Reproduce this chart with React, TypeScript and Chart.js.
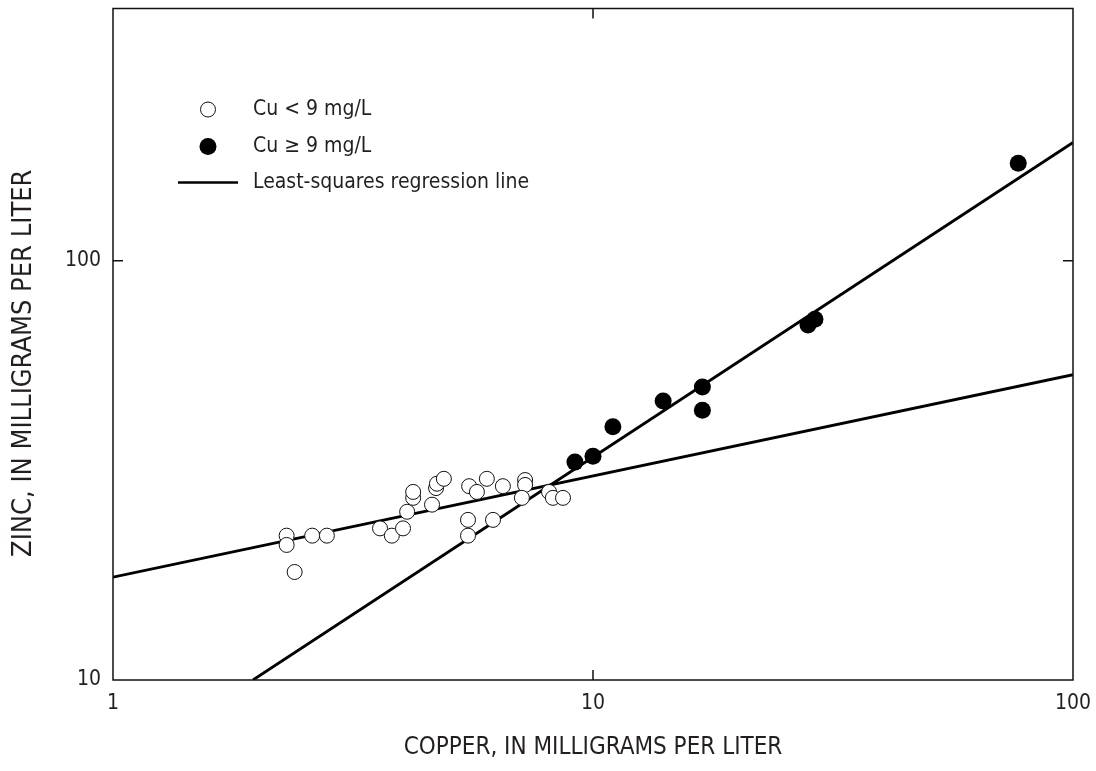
import { useEffect, useRef } from "react";
import { Chart, registerables } from "chart.js";

Chart.register(...registerables);

// Samples with copper below 9 mg/L (open circles)
const CU_LOW_X = [2.3, 2.3, 2.39, 2.6, 2.79, 3.6, 3.81, 4.02, 4.1, 4.22, 4.22, 4.62, 4.71, 4.73, 4.89, 5.52, 5.73, 6.01, 6.49, 5.49, 5.49, 6.19, 7.22, 7.22, 7.11, 8.1, 8.25, 8.66];
const ZN_LOW_Y = [22.1, 21.0, 18.1, 22.1, 22.1, 23.0, 22.1, 23.0, 25.2, 27.2, 28.1, 26.2, 28.7, 29.4, 30.2, 29.0, 28.1, 30.2, 29.0, 24.1, 22.1, 24.1, 30.0, 29.2, 27.2, 28.1, 27.2, 27.2];

// Samples with copper at or above 9 mg/L (filled circles)
const CU_HIGH_X = [9.17, 10.0, 11.0, 14.0, 16.9, 16.9, 28.05, 29.0, 76.9];
const ZN_HIGH_Y = [33.1, 34.2, 40.2, 46.3, 50.0, 44.0, 70.3, 72.6, 171];

// Least-squares regression lines, given by their end points
const FIT_SHALLOW_X = [1, 100];
const FIT_SHALLOW_Y = [17.6, 53.5];
const FIT_STEEP_X = [1.957, 100];
const FIT_STEEP_Y = [10, 191.6];

// Axes
const X_TICKS = [1, 10, 100];
const Y_TICKS = [10, 100];
const X_INNER_TICKS = [10];
const Y_INNER_TICKS = [100];
const X_RANGE = [1, 100];
const Y_RANGE = [10, 400];

const X_TITLE = "COPPER, IN MILLIGRAMS PER LITER";
const Y_TITLE = "ZINC, IN MILLIGRAMS PER LITER";
const LEGEND_LABELS = ["Cu < 9 mg/L", "Cu \u2265 9 mg/L", "Least-squares regression line"];

const FONT = '"Liberation Sans Narrow", "DejaVu Sans Condensed", "Arial Narrow", sans-serif';
const INK = "#111111";
const TEXT = "#231f20";

const toPoints = (xs: number[], ys: number[]) => xs.map((x, i) => ({ x, y: ys[i] }));

const framePlugin = {
  id: "frameTicks",
  afterDatasetsDraw(chart: any) {
    const { ctx, chartArea: a, scales } = chart;
    const tick = 10;
    ctx.save();
    ctx.strokeStyle = INK;
    ctx.lineWidth = 1.5;
    ctx.strokeRect(a.left, a.top, a.right - a.left, a.bottom - a.top);
    ctx.beginPath();
    X_INNER_TICKS.forEach((v) => {
      const px = scales.x.getPixelForValue(v);
      ctx.moveTo(px, a.bottom);
      ctx.lineTo(px, a.bottom - tick);
      ctx.moveTo(px, a.top);
      ctx.lineTo(px, a.top + tick);
    });
    Y_INNER_TICKS.forEach((v) => {
      const py = scales.y.getPixelForValue(v);
      ctx.moveTo(a.left, py);
      ctx.lineTo(a.left + tick, py);
      ctx.moveTo(a.right, py);
      ctx.lineTo(a.right - tick, py);
    });
    ctx.stroke();
    ctx.restore();
  },
};

const legendPlugin = {
  id: "insetLegend",
  afterDraw(chart: any) {
    const { ctx, chartArea: a } = chart;
    const markerX = a.left + 95;
    const textX = a.left + 140;
    const rows = [a.top + 101, a.top + 138, a.top + 174];
    ctx.save();
    ctx.textBaseline = "middle";
    ctx.textAlign = "left";

    // open circle
    ctx.beginPath();
    ctx.arc(markerX, rows[0], 7.5, 0, Math.PI * 2);
    ctx.fillStyle = "#ffffff";
    ctx.fill();
    ctx.strokeStyle = INK;
    ctx.lineWidth = 1;
    ctx.stroke();

    // filled circle
    ctx.beginPath();
    ctx.arc(markerX, rows[1], 8.5, 0, Math.PI * 2);
    ctx.fillStyle = "#000000";
    ctx.fill();

    // line sample
    ctx.beginPath();
    ctx.moveTo(a.left + 65, rows[2]);
    ctx.lineTo(a.left + 125, rows[2]);
    ctx.strokeStyle = "#000000";
    ctx.lineWidth = 2.5;
    ctx.stroke();

    ctx.font = `21px ${FONT}`;
    ctx.fillStyle = TEXT;
    LEGEND_LABELS.forEach((label, i) => ctx.fillText(label, textX, rows[i]));

    // y-axis title
    ctx.translate(a.left - 89, (a.top + a.bottom) / 2 + 19);
    ctx.rotate(-Math.PI / 2);
    ctx.textAlign = "center";
    ctx.font = `27px ${FONT}`;
    ctx.fillText(Y_TITLE, 0, 0);
    ctx.restore();
  },
};

export default function App() {
  const canvasRef = useRef<HTMLCanvasElement | null>(null);

  useEffect(() => {
    if (!canvasRef.current) return;
    const chart = new Chart(canvasRef.current, {
      type: "scatter",
      data: {
        datasets: [
          {
            label: LEGEND_LABELS[0],
            data: toPoints(CU_LOW_X, ZN_LOW_Y),
            pointRadius: 7.5,
            pointBackgroundColor: "#ffffff",
            pointBorderColor: INK,
            pointBorderWidth: 1,
            order: 1,
          },
          {
            label: LEGEND_LABELS[1],
            data: toPoints(CU_HIGH_X, ZN_HIGH_Y),
            pointRadius: 8.5,
            pointBackgroundColor: "#000000",
            pointBorderColor: "#000000",
            pointBorderWidth: 0,
            order: 1,
          },
          {
            type: "line",
            label: "fit shallow",
            data: toPoints(FIT_SHALLOW_X, FIT_SHALLOW_Y),
            borderColor: "#000000",
            borderWidth: 2.8,
            pointRadius: 0,
            fill: false,
            order: 2,
          },
          {
            type: "line",
            label: "fit steep",
            data: toPoints(FIT_STEEP_X, FIT_STEEP_Y),
            borderColor: "#000000",
            borderWidth: 2.8,
            pointRadius: 0,
            fill: false,
            order: 2,
          },
        ],
      } as any,
      options: {
        responsive: false,
        animation: false,
        events: [],
        layout: { padding: { top: 8, right: 23, left: 0, bottom: 0 } },
        plugins: {
          legend: { display: false },
          tooltip: { enabled: false },
        },
        scales: {
          x: {
            type: "logarithmic",
            min: X_RANGE[0],
            max: X_RANGE[1],
            afterBuildTicks: (s: any) => {
              s.ticks = X_TICKS.map((value) => ({ value }));
            },
            afterFit: (s: any) => {
              s.height = 91;
              s.paddingLeft = 0;
              s.paddingRight = 0;
            },
            ticks: {
              autoSkip: false,
              maxRotation: 0,
              padding: 11,
              color: TEXT,
              font: { family: FONT, size: 21 },
              callback: (v: any) => String(v),
            },
            grid: { display: false, drawTicks: false },
            border: { display: false },
            title: {
              display: true,
              text: X_TITLE,
              color: TEXT,
              font: { family: FONT, size: 24 },
              padding: { top: 0, bottom: 9 },
            },
          },
          y: {
            type: "logarithmic",
            min: Y_RANGE[0],
            max: Y_RANGE[1],
            afterBuildTicks: (s: any) => {
              s.ticks = Y_TICKS.map((value) => ({ value }));
            },
            afterFit: (s: any) => {
              s.width = 113;
              s.paddingTop = 0;
              s.paddingBottom = 0;
            },
            ticks: {
              autoSkip: false,
              padding: 12,
              color: TEXT,
              font: { family: FONT, size: 21 },
              callback: (v: any) => String(v),
            },
            grid: { display: false, drawTicks: false },
            border: { display: false },
          },
        },
      } as any,
      plugins: [framePlugin, legendPlugin],
    });
    return () => chart.destroy();
  }, []);

  return (
    <div style={{ position: "fixed", left: 0, top: 0, width: 1096, height: 771, background: "#ffffff" }}>
      <canvas ref={canvasRef} width={1096} height={771} />
    </div>
  );
}
